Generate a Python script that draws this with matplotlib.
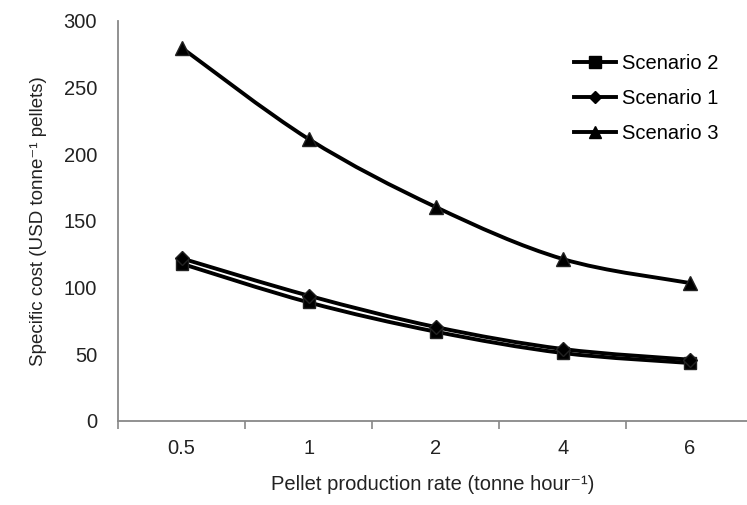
import matplotlib
matplotlib.use("Agg")
import matplotlib.pyplot as plt
from matplotlib.path import Path
from matplotlib.patches import PathPatch
from matplotlib.lines import Line2D
import numpy as np

plt.rcParams['font.family'] = ['Liberation Sans', 'DejaVu Sans']

categories = ["0.5", "1", "2", "4", "6"]
scenario2 = [118, 89, 67, 51, 43.5]
scenario1 = [122, 94, 70.5, 54, 46]
scenario3 = [280, 211.5, 160.5, 121.5, 103.5]

fig = plt.figure(figsize=(7.47, 5.05), dpi=100)
ax = fig.add_axes([118/747, 84/505, 1 - 118/747, 400/505])

x = np.arange(len(categories))


def smooth_path(xs, ys):
    pts = np.column_stack([xs, ys]).astype(float)
    verts = [tuple(pts[0])]
    codes = [Path.MOVETO]
    n = len(pts)
    for i in range(n - 1):
        p0 = pts[i - 1] if i > 0 else pts[i]
        p1 = pts[i]
        p2 = pts[i + 1]
        p3 = pts[i + 2] if i + 2 < n else pts[i + 1]
        c1 = p1 + (p2 - p0) / 6.0
        c2 = p2 - (p3 - p1) / 6.0
        verts += [tuple(c1), tuple(c2), tuple(p2)]
        codes += [Path.CURVE4] * 3
    return Path(verts, codes)


series = [
    ("Scenario 2", scenario2, "s", 9),
    ("Scenario 1", scenario1, "D", 7),
    ("Scenario 3", scenario3, "^", 10),
]

for name, vals, mk, ms in series:
    ax.add_patch(PathPatch(smooth_path(x, vals), fill=False, edgecolor="black",
                           linewidth=2.8, capstyle="round", joinstyle="round", zorder=2))
for name, vals, mk, ms in series:
    ax.plot(x, vals, linestyle="none", marker=mk, markersize=ms, color="black",
            markeredgecolor="#222222", zorder=3)

ax.set_xlim(-0.5, 4.45)
ax.set_ylim(0, 300)
ax.set_yticks([0, 50, 100, 150, 200, 250, 300])
ax.set_xticks(x)
ax.set_xticklabels(categories)
ax.set_xticks(np.arange(-0.5, 4.5, 1.0), minor=True)
ax.tick_params(axis="x", which="major", length=0, pad=13, labelsize=14.5, colors="#222222")
ax.tick_params(axis="x", which="minor", length=6, width=1.2, color="#888888", direction="out")
ax.tick_params(axis="y", length=0, pad=15, labelsize=14.5, colors="#222222")

for s in ["top", "right"]:
    ax.spines[s].set_visible(False)
for s in ["left", "bottom"]:
    ax.spines[s].set_color("#888888")
    ax.spines[s].set_linewidth(1.3)

ax.set_xlabel("Pellet production rate (tonne hour\u207b\u00b9)", fontsize=14.5,
              color="#222222", labelpad=12)
ax.set_ylabel("Specific cost (USD tonne\u207b\u00b9 pellets)", fontsize=13.5,
              color="#222222", labelpad=12)

handles = [Line2D([], [], color="black", linewidth=2.8, marker=mk, markersize=ms * 0.9)
           for _, _, mk, ms in series]
labels = [name for name, _, _, _ in series]
ax.legend(handles, labels, loc="upper left",
          bbox_to_anchor=(574/747, (505 - 54)/505), bbox_transform=fig.transFigure,
          frameon=False, fontsize=14.5, borderaxespad=0, borderpad=0,
          handlelength=2.1, handletextpad=0.3, labelspacing=0.8)

fig.savefig("out.png", dpi=100)
